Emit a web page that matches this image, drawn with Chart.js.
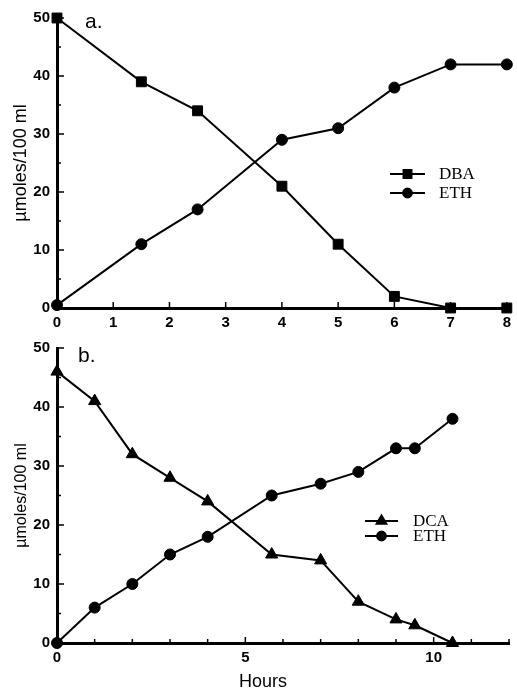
<!DOCTYPE html>
<html>
<head>
<meta charset="utf-8">
<script src="https://cdn.jsdelivr.net/npm/chart.js@4.4.1/dist/chart.umd.min.js"></script>
<style>
  html, body { margin: 0; padding: 0; background: #fff; }
  body { width: 517px; height: 692px; position: relative; overflow: hidden; }
  .panel { position: absolute; left: 0; width: 517px; }
  #panel-a { top: 0; height: 340px; }
  #panel-b { top: 330px; height: 362px; }
</style>
</head>
<body>
<div class="panel" id="panel-a"><canvas id="chart-a"></canvas></div>
<div class="panel" id="panel-b"><canvas id="chart-b"></canvas></div>
<script>
// ── data ─────────────────────────────────────────────────
const hoursA = [0, 1.5, 2.5, 4, 5, 6, 7, 8];
const dbaA   = [50, 39, 34, 21, 11, 2, 0, 0];
const ethA   = [0.5, 11, 17, 29, 31, 38, 42, 42];

const hoursB = [0, 1, 2, 3, 4, 5.7, 7, 8, 9, 9.5, 10.5];
const dcaB   = [46, 41, 32, 28, 24, 15, 14, 7, 4, 3, 0];
const ethB   = [0, 6, 10, 15, 18, 25, 27, 29, 33, 33, 38];

const yLabels   = [0, 10, 20, 30, 40, 50];
const yMinor    = [5, 15, 25, 35, 45];
const xLabelsA  = [0, 1, 2, 3, 4, 5, 6, 7, 8];
const xLabelsB  = [0, 5, 10];
const xMinorB   = [1, 2, 3, 4, 6, 7, 8, 9, 11, 12];

const BLACK = "#000";
const tickFont = { family: "Liberation Sans, Arial, sans-serif", size: 15, weight: "bold" };

const pts = (xs, ys) => xs.map((x, i) => ({ x, y: ys[i] }));

// inward tick marks on both axes
const inwardTicks = {
  id: "inwardTicks",
  afterDraw(chart, args, opts) {
    const { ctx, chartArea: a, scales: { x, y } } = chart;
    ctx.save();
    ctx.strokeStyle = BLACK;
    ctx.lineWidth = 1.5;
    ctx.beginPath();
    opts.yMajor.forEach(v => { const py = y.getPixelForValue(v); ctx.moveTo(a.left, py); ctx.lineTo(a.left + 7, py); });
    opts.yMinor.forEach(v => { const py = y.getPixelForValue(v); ctx.moveTo(a.left, py); ctx.lineTo(a.left + 4, py); });
    opts.xMajor.forEach(v => { const px = x.getPixelForValue(v); ctx.moveTo(px, a.bottom); ctx.lineTo(px, a.bottom - 6); });
    opts.xMinor.forEach(v => { const px = x.getPixelForValue(v); ctx.moveTo(px, a.bottom); ctx.lineTo(px, a.bottom - 4); });
    ctx.stroke();
    ctx.restore();
  }
};

// panel letter, line+marker legend, "Hours"
const annot = {
  id: "annot",
  afterDraw(chart, args, opts) {
    const { ctx } = chart;
    ctx.save();
    ctx.fillStyle = BLACK;
    ctx.strokeStyle = BLACK;
    ctx.font = "21px 'Liberation Sans', Arial, sans-serif";
    ctx.textBaseline = "alphabetic";
    ctx.fillText(opts.letter, opts.letterX, opts.letterY);

    const lg = opts.legend;
    chart.data.datasets.forEach((ds, i) => {
      const yy = lg.y + i * lg.gap;
      ctx.lineWidth = 2;
      ctx.beginPath();
      ctx.moveTo(lg.x0, yy);
      ctx.lineTo(lg.x1, yy);
      ctx.stroke();
      Chart.helpers.drawPoint(ctx, { pointStyle: ds.pointStyle, radius: ds.pointRadius * 0.8, rotation: 0, borderWidth: 1 }, (lg.x0 + lg.x1) / 2, yy);
      ctx.font = "17px 'Liberation Serif', 'Times New Roman', serif";
      ctx.textBaseline = "middle";
      ctx.fillText(ds.label, lg.tx, yy + 1);
    });

    if (opts.xTitle) {
      ctx.font = "18px 'Liberation Sans', Arial, sans-serif";
      ctx.textAlign = "center";
      ctx.textBaseline = "middle";
      ctx.fillText(opts.xTitle, opts.xTitleX, opts.xTitleY);
    }
    ctx.restore();
  }
};

function series(label, xs, ys, style, r) {
  return {
    label,
    data: pts(xs, ys),
    borderColor: BLACK,
    backgroundColor: BLACK,
    borderWidth: 2,
    pointStyle: style,
    pointRadius: r,
    pointBackgroundColor: BLACK,
    pointBorderColor: BLACK,
    pointBorderWidth: 1,
    tension: 0,
    clip: false,
  };
}

function makeChart(id, cfg) {
  return new Chart(document.getElementById(id), {
    type: "line",
    data: { datasets: cfg.datasets },
    options: {
      responsive: true,
      maintainAspectRatio: false,
      animation: false,
      layout: { padding: { top: 18, right: 8, left: 0, bottom: 0 } },
      plugins: {
        legend: { display: false },
        tooltip: { enabled: false },
        inwardTicks: cfg.ticks,
        annot: cfg.annot,
      },
      scales: {
        x: {
          type: "linear",
          min: 0,
          max: cfg.xMax,
          afterFit: s => { s.height = cfg.xHeight; },
          afterBuildTicks: s => { s.ticks = cfg.xLabels.map(v => ({ value: v })); },
          grid: { display: false, drawTicks: false },
          border: { display: true, color: BLACK, width: 3 },
          ticks: { color: BLACK, font: tickFont, padding: 6, autoSkip: false, maxRotation: 0 },
        },
        y: {
          min: 0,
          max: 50,
          afterFit: s => { s.width = 57; },
          afterBuildTicks: s => { s.ticks = yLabels.map(v => ({ value: v })); },
          grid: { display: false, drawTicks: false },
          border: { display: true, color: BLACK, width: 3 },
          ticks: { color: BLACK, font: tickFont, padding: 7 },
          title: {
            display: true,
            text: "µmoles/100 ml",
            color: BLACK,
            font: { family: "Liberation Sans, Arial, sans-serif", size: cfg.yTitleSize },
            padding: { top: cfg.yTitlePad, bottom: 0 },
          },
        },
      },
    },
    plugins: [inwardTicks, annot],
  });
}

makeChart("chart-a", {
  datasets: [series("DBA", hoursA, dbaA, "rect", 7), series("ETH", hoursA, ethA, "circle", 5.5)],
  xMax: 8,
  xHeight: 32,
  xLabels: xLabelsA,
  yTitleSize: 18,
  yTitlePad: 10,
  ticks: { yMajor: yLabels, yMinor: yMinor, xMajor: xLabelsA, xMinor: [] },
  annot: {
    letter: "a.", letterX: 85, letterY: 28,
    legend: { x0: 390, x1: 425, tx: 439, y: 174, gap: 19 },
  },
});

makeChart("chart-b", {
  datasets: [series("DCA", hoursB, dcaB, "triangle", 7), series("ETH", hoursB, ethB, "circle", 5.5)],
  xMax: 12,
  xHeight: 49,
  xLabels: xLabelsB,
  yTitleSize: 16,
  yTitlePad: 12,
  ticks: { yMajor: yLabels, yMinor: yMinor, xMajor: xLabelsB, xMinor: xMinorB },
  annot: {
    letter: "b.", letterX: 78, letterY: 32,
    legend: { x0: 365, x1: 398, tx: 413, y: 191, gap: 15 },
    xTitle: "Hours", xTitleX: 263, xTitleY: 352,
  },
});
</script>
</body>
</html>
